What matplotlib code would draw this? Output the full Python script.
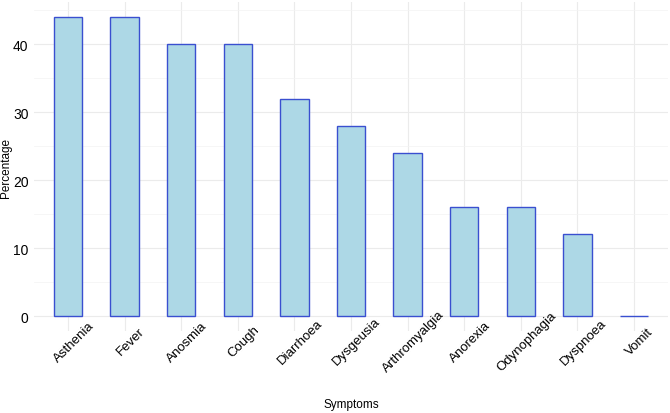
import matplotlib
matplotlib.use("Agg")
import matplotlib.pyplot as plt
from matplotlib.ticker import MultipleLocator

symptoms = ["Asthenia", "Fever", "Anosmia", "Cough", "Diarrhoea", "Dysgeusia",
            "Arthromyalgia", "Anorexia", "Odynophagia", "Dyspnoea", "Vomit"]
percentage = [44, 44, 40, 40, 32, 28, 24, 16, 16, 12, 0]

plt.rcParams['font.family'] = ['Liberation Sans', 'DejaVu Sans']

fig = plt.figure(figsize=(6.7, 4.14), dpi=100)
ax = fig.add_axes([34 / 670, 82 / 414, 634 / 670, 329 / 414])

x = list(range(len(symptoms)))
ax.bar(x, percentage, width=0.5, color="#add8e6", edgecolor="#3a4fd0", linewidth=1, zorder=3)

ax.set_xlim(-0.6, len(symptoms) - 0.4)
ax.set_ylim(-2.2, 46.2)
ax.set_xticks(x)
ax.set_xticklabels([])
# rotated category labels, centred a little right of and below each tick
for i, name in zip(x, symptoms):
    ax.annotate(name, xy=(i, 0), xycoords=ax.get_xaxis_transform(),
                xytext=(4.3, -7.4), textcoords="offset points",
                rotation=45, ha="center", va="center", fontsize=9.5)

ax.yaxis.set_major_locator(MultipleLocator(10))
ax.yaxis.set_minor_locator(MultipleLocator(5))
ax.tick_params(axis="y", labelsize=10, length=0, pad=4)
ax.tick_params(axis="x", length=0)
ax.tick_params(which="minor", length=0)

ax.grid(which="major", color="#ebebeb", linewidth=0.8, zorder=0)
ax.grid(which="minor", axis="y", color="#f3f3f3", linewidth=0.5, zorder=0)
for s in ax.spines.values():
    s.set_visible(False)

ax.set_xlabel("Symptoms", fontsize=8.5, va="center")
ax.set_ylabel("Percentage", fontsize=8.5, va="center")
ax.xaxis.set_label_coords(0.5, (332 - 405) / 329)
ax.yaxis.set_label_coords((6 - 34) / 634, 0.5)

fig.savefig("out.png", dpi=100)
